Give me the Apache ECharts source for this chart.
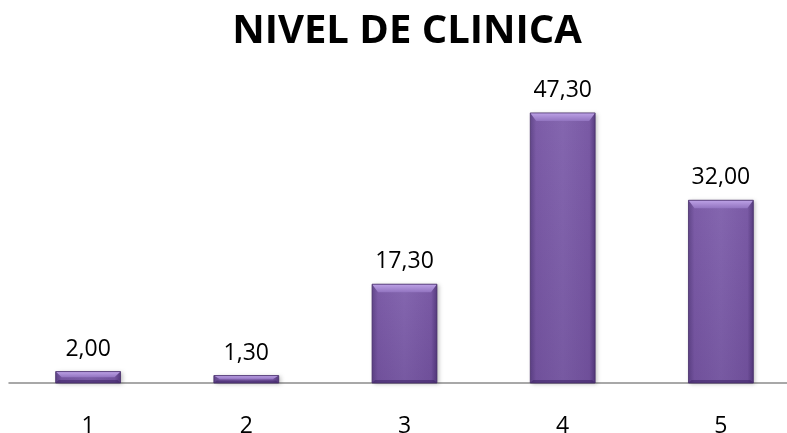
<!DOCTYPE html>
<html>
<head>
<meta charset="utf-8">
<script src="https://cdn.jsdelivr.net/npm/echarts@6/dist/echarts.min.js"></script>
<style>
  html, body { margin: 0; padding: 0; background: #ffffff; }
  #chart { width: 787px; height: 433px; }
</style>
</head>
<body>
<div id="chart"></div>
<script>
// Clinic level distribution
const titleText = 'NIVEL DE CLINICA';
const categories = ['1', '2', '3', '4', '5'];
const values = [2.00, 1.30, 17.30, 47.30, 32.00];

const fmt = v => v.toFixed(2).replace('.', ',');
const BAR_RATIO = 0.41;

const chart = echarts.init(document.getElementById('chart'), null, { renderer: 'canvas' });

// Bevel facets drawn over each bar: a light top facet, a faint bottom facet and a soft vertical shade
function renderBevel(params, api) {
  const idx = api.value(0);
  const v = api.value(1);
  const base = api.coord([idx, 0]);
  const top = api.coord([idx, v]);
  const w = api.size([1, 0])[0] * BAR_RATIO;
  const x0 = base[0] - w / 2, x1 = base[0] + w / 2;
  const y0 = top[1], y1 = base[1];
  const h = y1 - y0;
  const b = Math.min(8, h / 2);
  const bb = Math.min(3, h / 3);
  const s = Math.min(6, w / 4);
  return {
    type: 'group',
    children: [
      {
        type: 'rect',
        shape: { x: x0, y: y0, width: w, height: h },
        style: {
          fill: {
            type: 'linear', x: 0, y: 0, x2: 0, y2: 1,
            colorStops: [
              { offset: 0, color: 'rgba(40,10,80,0)' },
              { offset: 1, color: 'rgba(40,10,80,0.14)' }
            ]
          }
        }
      },
      {
        type: 'polygon',
        shape: { points: [[x0, y0], [x1, y0], [x1 - s, y0 + b], [x0 + s, y0 + b]] },
        style: {
          fill: {
            type: 'linear', x: 0, y: 0, x2: 0, y2: 1,
            colorStops: [
              { offset: 0, color: '#bda2e6' },
              { offset: 1, color: '#9274c0' }
            ]
          }
        }
      },
      {
        type: 'polygon',
        shape: { points: [[x0, y1], [x1, y1], [x1 - s / 2, y1 - bb], [x0 + s / 2, y1 - bb]] },
        style: { fill: 'rgba(60,35,100,0.55)' }
      },
      {
        type: 'rect',
        shape: { x: x0, y: y0, width: w, height: h },
        style: { fill: 'none', stroke: 'rgba(70,45,105,0.8)', lineWidth: 1 }
      }
    ]
  };
}

chart.setOption({
  animation: false,
  backgroundColor: '#ffffff',
  title: {
    text: titleText,
    left: 402,
    textAlign: 'center',
    top: 7,
    textStyle: {
      fontFamily: 'Open Sans',
      fontWeight: 'bold',
      fontSize: 40,
      color: '#000000'
    }
  },
  grid: { left: 9, width: 791, top: 97.5, bottom: 50, outerBoundsMode: 'none' },
  xAxis: {
    type: 'category',
    data: categories,
    axisLine: { show: true, lineStyle: { color: '#8c8c8c', width: 1.5 } },
    axisTick: { show: false },
    axisLabel: {
      margin: 32,
      fontFamily: 'Open Sans',
      fontSize: 23,
      color: '#000000'
    }
  },
  yAxis: {
    type: 'value',
    min: 0,
    max: 50,
    show: false,
    splitLine: { show: false }
  },
  series: [
    {
      type: 'bar',
      data: values,
      barWidth: (BAR_RATIO * 100) + '%',
      itemStyle: {
        color: {
          type: 'linear', x: 0, y: 0, x2: 1, y2: 0,
          colorStops: [
            { offset: 0, color: '#62478a' },
            { offset: 0.09, color: '#7c5ca7' },
            { offset: 0.5, color: '#8466af' },
            { offset: 0.91, color: '#7a5aa5' },
            { offset: 1, color: '#583d80' }
          ]
        },
        shadowColor: 'rgba(0,0,0,0.25)',
        shadowBlur: 4,
        shadowOffsetX: 2,
        shadowOffsetY: 1
      },
      label: {
        show: true,
        position: 'top',
        distance: 11,
        formatter: p => fmt(p.value),
        fontFamily: 'Open Sans',
        fontSize: 23,
        color: '#000000'
      }
    },
    {
      type: 'custom',
      data: values.map((v, i) => [i, v]),
      renderItem: renderBevel,
      z: 3,
      silent: true
    }
  ]
});
</script>
</body>
</html>
